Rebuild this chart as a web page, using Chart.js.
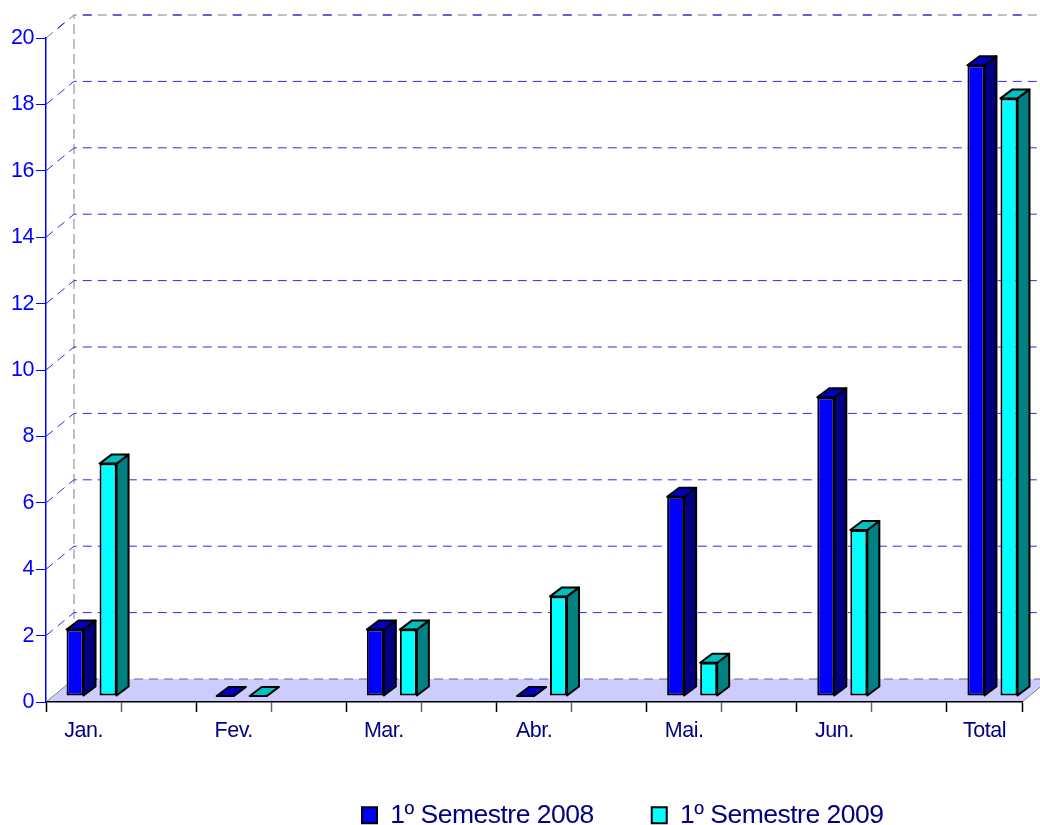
<!DOCTYPE html>
<html>
<head>
<meta charset="utf-8">
<style>
  html, body { margin: 0; background: #fff; }
  canvas { display: block; }
</style>
<script src="https://cdn.jsdelivr.net/npm/chart.js@4"></script>
</head>
<body>
<canvas id="chart" width="1040" height="825"></canvas>
<script>
// blank slots sit between the months, the x axis has 13 tick spaces
const categories = ['Jan.', '', 'Fev.', '', 'Mar.', '', 'Abr.', '', 'Mai.', '', 'Jun.', '', 'Total'];
const semestre2008 = [2, null, 0, null, 2, null, 0, null, 6, null, 9, null, 19];
const semestre2009 = [7, null, 0, null, 2, null, 3, null, 1, null, 5, null, 18];
const seriesNames = ['1º Semestre 2008', '1º Semestre 2009'];

const BLUE = '#0000ff';
const NAVY = '#000080';
const WALL_DX = 28, WALL_DY = -23;   // back wall offset from the axis plane
const BAR_DX = 8, BAR_DY = -6;       // bars stand in the middle of the floor
const SIDE_DX = 12, SIDE_DY = -9;    // bar depth

const faceColors = [
  { top: '#0000c0', side: '#000080' },
  { top: '#00c0c0', side: '#008080' }
];

function poly(ctx, pts, fill, stroke, width) {
  ctx.beginPath();
  pts.forEach((p, i) => i ? ctx.lineTo(p[0], p[1]) : ctx.moveTo(p[0], p[1]));
  ctx.closePath();
  if (fill) { ctx.fillStyle = fill; ctx.fill(); }
  if (stroke) { ctx.strokeStyle = stroke; ctx.lineWidth = width; ctx.stroke(); }
}

function dashed(ctx, pts, color, dash, offset) {
  ctx.save();
  ctx.strokeStyle = color;
  ctx.lineWidth = 1;
  ctx.setLineDash(dash);
  ctx.lineDashOffset = offset || 0;
  ctx.beginPath();
  pts.forEach((p, i) => i ? ctx.lineTo(p[0], p[1]) : ctx.moveTo(p[0], p[1]));
  ctx.stroke();
  ctx.restore();
}

const fake3d = {
  id: 'fake3d',
  beforeDraw(chart) {
    const { ctx, chartArea: a, scales: { y } } = chart;
    ctx.letterSpacing = '-0.5px';
    const y0 = y.getPixelForValue(0);

    // floor
    poly(ctx, [[a.left, y0], [a.left + WALL_DX, y0 + WALL_DY], [a.right + WALL_DX, y0 + WALL_DY], [a.right, y0]], '#ccccff');
    ctx.save();
    ctx.strokeStyle = '#808080';
    ctx.lineWidth = 1;
    ctx.beginPath();
    ctx.moveTo(a.left, y0);
    ctx.lineTo(a.left + WALL_DX, y0 + WALL_DY);
    ctx.moveTo(a.right, y0);
    ctx.lineTo(a.right + WALL_DX, y0 + WALL_DY);
    ctx.stroke();
    ctx.restore();
    dashed(ctx, [[a.left + WALL_DX, y0 + WALL_DY], [a.right + WALL_DX, y0 + WALL_DY]], '#666688', [9, 6]);

    // back wall edge
    const yTop = y.getPixelForValue(20);
    dashed(ctx, [[a.left + WALL_DX, y0 + WALL_DY], [a.left + WALL_DX, yTop + WALL_DY]], '#808080', [10, 5]);

    // grid lines run along the side wall and then the back wall
    y.ticks.forEach(t => {
      if (t.value === 0) return;
      const py = y.getPixelForValue(t.value);
      const path = [[a.left, py], [a.left + WALL_DX, py + WALL_DY], [a.right + WALL_DX, py + WALL_DY]];
      if (t.value === 20) {
        dashed(ctx, path, '#808080', [9, 6]);
        dashed(ctx, path, BLUE, [9, 21], 15);
      } else {
        dashed(ctx, path, '#2a2aee', [9, 6]);
      }
    });
  },
  beforeDatasetsDraw(chart) {
    const ctx = chart.ctx;
    ctx.save();
    ctx.translate(BAR_DX, BAR_DY);
    ctx.lineJoin = 'round';
    chart.data.datasets.forEach((ds, i) => {
      chart.getDatasetMeta(i).data.forEach((bar, j) => {
        if (ds.data[j] === null) return;
        const right = bar.x + bar.width / 2, left = bar.x - bar.width / 2;
        poly(ctx, [[right, bar.base], [right + SIDE_DX, bar.base + SIDE_DY], [right + SIDE_DX, bar.y + SIDE_DY], [right, bar.y]],
          faceColors[i].side, '#000', 2);
        poly(ctx, [[left, bar.y], [left + SIDE_DX, bar.y + SIDE_DY], [right + SIDE_DX, bar.y + SIDE_DY], [right, bar.y]],
          faceColors[i].top, '#000', 2);
      });
    });
    // still translated while the library draws the front faces
  },
  afterDatasetsDraw(chart) {
    chart.ctx.restore();
  },
  beforeLayout(chart) {
    const legend = chart.legend;
    if (legend.fitWrapped) return;
    const fit = legend.fit;
    legend.fit = function () {
      fit.call(this);
      this.height = 83;  // legend is placed by hand, keep plot bottom fixed
    };
    legend.fitWrapped = true;
  },
  afterLayout(chart) {
    chart.legend.left = 304;
    chart.legend.top = 744;
  }
};

new Chart(document.getElementById('chart'), {
  type: 'bar',
  data: {
    labels: categories,
    datasets: [
      { label: seriesNames[0], data: semestre2008, backgroundColor: BLUE, borderColor: '#000', borderWidth: 2, borderSkipped: false, clip: false },
      { label: seriesNames[1], data: semestre2009, backgroundColor: '#00ffff', borderColor: '#000', borderWidth: 2, borderSkipped: false, clip: false }
    ]
  },
  options: {
    responsive: false,
    animation: false,
    events: [],
    barPercentage: 0.515,
    categoryPercentage: 0.88,
    layout: { padding: { top: 38, right: 18, left: 0, bottom: 0 } },
    plugins: {
      tooltip: { enabled: false },
      legend: {
        position: 'bottom',
        align: 'start',
        labels: {
          color: NAVY,
          boxWidth: 15,
          boxHeight: 16,
          padding: 58,
          font: { family: 'Liberation Sans', size: 26.5 }
        }
      }
    },
    scales: {
      x: {
        afterFit: s => { s.height = 40; },
        grid: {
          drawOnChartArea: false,
          tickLength: 10,
          tickWidth: 1.5,
          tickColor: c => c.index % 2 ? '#666666' : '#000000'
        },
        border: { color: '#000', width: 1.5 },
        ticks: {
          autoSkip: false,
          maxRotation: 0,
          padding: 6,
          color: NAVY,
          font: { family: 'Liberation Sans', size: 21.5 }
        }
      },
      y: {
        min: 0,
        max: 20,
        afterFit: s => { s.width = 46; },
        grid: { drawOnChartArea: false, tickLength: 10, tickColor: BLUE },
        border: { color: BLUE, width: 1.5 },
        ticks: {
          stepSize: 2,
          padding: 2,
          color: BLUE,
          font: { family: 'Liberation Sans', size: 21.5 }
        }
      }
    }
  },
  plugins: [fake3d]
});
</script>
</body>
</html>
